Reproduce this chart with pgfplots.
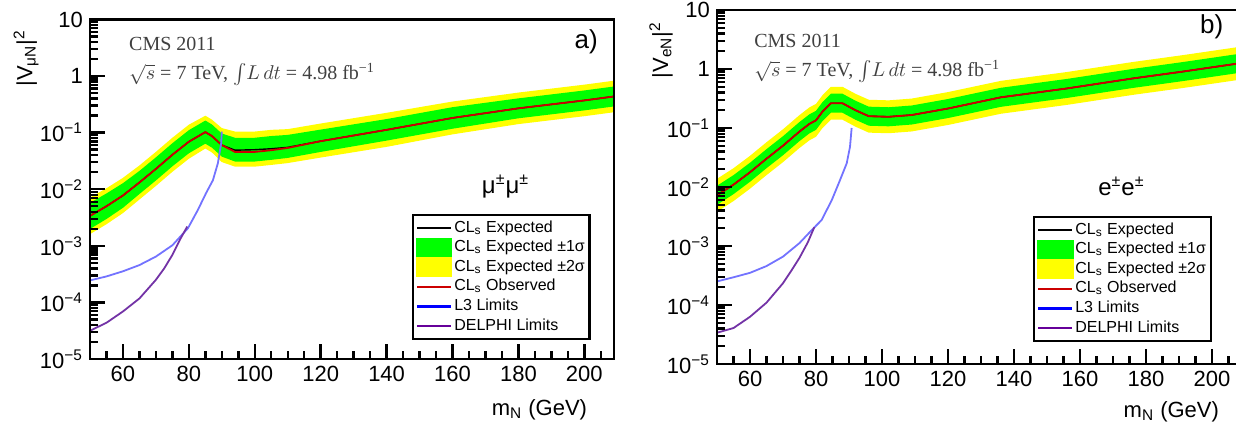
\documentclass[border=0pt]{standalone}
\usepackage{fontspec}
\setmainfont{Liberation Sans}
\newfontfamily\seriffont{Liberation Serif}
\usepackage{pgfplots}
\usepackage{pgfplotstable}
\pgfplotsset{compat=1.18}

\definecolor{obsred}{rgb}{0.8,0,0}
\definecolor{ltblue}{rgb}{0.45,0.45,1}
\definecolor{delphi}{rgb}{0.45,0.2,0.65}
\definecolor{legpurple}{rgb}{0.4,0,0.6}
\definecolor{bandgreen}{rgb}{0,1,0}
\definecolor{bandyellow}{rgb}{1,1,0}

% expected and observed limits
\pgfplotstableread{
x exp obs
50 0.00339 0.00339
55 0.00501 0.00501
60 0.00776 0.00776
65 0.01318 0.01318
70 0.0229 0.0229
75 0.0407 0.0407
80 0.0692 0.0692
85 0.1023 0.1023
87 0.0871 0.0871
90 0.0603 0.0603
94 0.0490 0.0457
100 0.0500 0.0457
105 0.0520 0.0490
110 0.0550 0.0537
120 0.0708 0.0708
140 0.1122 0.1122
160 0.1820 0.1820
180 0.2692 0.2692
200 0.3715 0.3715
209 0.4365 0.4365
}\leftlim

\pgfplotstableread{
x y
50 2.45e-4
55 2.88e-4
60 3.55e-4
65 4.57e-4
70 6.46e-4
75 1.023e-3
79.7 2.04e-3
82.7 4.27e-3
85.2 8.51e-3
87.3 0.01445
88.8 0.0288
89.8 0.0646
90.0 0.1047
}\leftLthree

\pgfplotstableread{
x y
50 3.16e-5
55 4.37e-5
60 6.92e-5
65 1.175e-4
70 2.51e-4
72.5 3.98e-4
75 6.92e-4
77.5 1.35e-3
79.5 2.19e-3
}\leftDelphi

\pgfplotstableread{
x exp obs
50 0.00724 0.00724
55 0.01096 0.01096
60 0.01778 0.01778
65 0.0302 0.0302
70 0.0501 0.0501
75 0.0871 0.0871
78 0.1175 0.1175
80 0.1349 0.1349
82 0.1905 0.1905
84.5 0.263 0.263
88 0.263 0.263
92 0.1995 0.1995
96 0.1585 0.1585
102 0.1549 0.1549
109 0.166 0.166
120 0.2138 0.2138
136 0.3311 0.3311
156 0.4677 0.4677
176 0.6918 0.6918
191 0.9016 0.9016
210 1.288 1.288
}\rightlim

\pgfplotstableread{
x y
50 2.51e-4
55 2.95e-4
60 3.51e-4
65 4.57e-4
70 6.61e-4
75 1.122e-3
78.7 1.86e-3
81.7 2.75e-3
84.8 6.03e-3
87.3 0.01318
89.3 0.0251
90.3 0.0479
90.8 0.1
}\rightLthree

\pgfplotstableread{
x y
50 3.39e-5
55 4.07e-5
60 6.31e-5
65 1.096e-4
70 2.34e-4
72.5 3.80e-4
75 6.31e-4
77.5 1.148e-3
79.5 2.09e-3
}\rightDelphi

\pgfplotsset{
  every axis/.append style={
    scale only axis,
    ymode=log,
    xmin=50, ymin=1e-5, ymax=10,
    clip=false, axis on top,
    xtick pos=bottom, ytick pos=left, tick align=inside,
    axis line style={line width=1.2pt},
    every tick/.style={black, line width=1.2pt},
    major tick length=7.5pt, minor tick length=4pt,
    xtick={60,80,100,120,140,160,180,200},
    minor xtick={55,65,70,75,85,90,95,105,110,115,125,130,135,145,150,155,165,170,175,185,190,195,205},
    ytick={1e-5,1e-4,1e-3,1e-2,1e-1,1,10},
    minor ytick={2e-5,3e-5,4e-5,5e-5,6e-5,7e-5,8e-5,9e-5,2e-4,3e-4,4e-4,5e-4,6e-4,7e-4,8e-4,9e-4,2e-3,3e-3,4e-3,5e-3,6e-3,7e-3,8e-3,9e-3,0.02,0.03,0.04,0.05,0.06,0.07,0.08,0.09,0.2,0.3,0.4,0.5,0.6,0.7,0.8,0.9,2,3,4,5,6,7,8,9},
    yticklabels={10\textsuperscript{−5},10\textsuperscript{−4},10\textsuperscript{−3},10\textsuperscript{−2},10\textsuperscript{−1},1,10},
    /pgf/number format/assume math mode=true,
    tick label style={font=\fontsize{11}{13}\selectfont},
    legend cell align=left,
    legend style={anchor=north west,
      draw=black, line width=1.2pt, font=\fontsize{8}{9.8}\selectfont,
      inner sep=1.5pt, row sep=0pt,
      nodes={text height=6pt, text depth=2pt, inner sep=0.9pt}},
  },
}

\begin{document}
\begin{tikzpicture}
% ---------------- panel a ----------------
\begin{axis}[
  at={(45pt,31.5pt)}, anchor=south west,
  width=262pt, height=169.75pt,
  xmax=209,
  legend style={at={(rel axis cs:0.614,0.427)}},
]
% +-2 sigma band (upper edge, then lower edge backwards)
\addplot[fill=bandyellow, draw=none, forget plot] coordinates {
(50,0.00712) (55,0.01042) (60,0.01591) (65,0.02636) (70,0.0458) (75,0.0814) (80,0.1384) (85,0.1995) (87,0.1698) (90,0.1206) (94,0.1047) (100,0.1047) (105,0.1122) (110,0.1155) (120,0.1451) (140,0.2244) (160,0.3549) (180,0.5115) (200,0.7059) (209,0.8294)
(209,0.2297) (200,0.1955) (180,0.1417) (160,0.0933) (140,0.0561) (120,0.0363) (110,0.0290) (105,0.0269) (100,0.0251) (94,0.0251) (90,0.0302) (87,0.0447) (85,0.05246) (80,0.0346) (75,0.02035) (70,0.01145) (65,0.00659) (60,0.00379) (55,0.00241) (50,0.00161)};
% +-1 sigma band
\addplot[fill=bandgreen, draw=none, forget plot] coordinates {
(50,0.00576) (55,0.00842) (60,0.01280) (65,0.02109) (70,0.03664) (75,0.06512) (80,0.1107) (85,0.1637) (87,0.1394) (90,0.0965) (94,0.0813) (100,0.0813) (105,0.0872) (110,0.0913) (120,0.1133) (140,0.1739) (160,0.2821) (180,0.4038) (200,0.5573) (209,0.6548)
(209,0.2910) (200,0.2477) (180,0.1795) (160,0.1174) (140,0.0724) (120,0.0457) (110,0.0358) (105,0.0331) (100,0.0309) (94,0.0309) (90,0.0377) (87,0.0544) (85,0.0639) (80,0.04325) (75,0.02544) (70,0.01431) (65,0.00824) (60,0.00470) (55,0.00298) (50,0.00199)};
\addplot[black, line width=0.7pt, forget plot] table[x=x,y=exp]{\leftlim};
\addplot[obsred, line width=0.9pt, forget plot] table[x=x,y=obs]{\leftlim};
\addplot[ltblue, line width=0.9pt, forget plot] table[x=x,y=y]{\leftLthree};
\addplot[delphi, line width=0.9pt, forget plot] table[x=x,y=y]{\leftDelphi};

\addlegendimage{black, line width=1.1pt}
\addlegendentry{CL\textsubscript{s} Expected}
\addlegendimage{legend image code/.code={\fill[bandgreen] (0cm,-0.15cm) rectangle (0.6cm,0.15cm);}}
\addlegendentry{CL\textsubscript{s} Expected ±1σ}
\addlegendimage{legend image code/.code={\fill[bandyellow] (0cm,-0.15cm) rectangle (0.6cm,0.15cm);}}
\addlegendentry{CL\textsubscript{s} Expected ±2σ}
\addlegendimage{obsred, line width=1.1pt}
\addlegendentry{CL\textsubscript{s} Observed}
\addlegendimage{blue, line width=1.1pt}
\addlegendentry{L3 Limits}
\addlegendimage{legpurple, line width=1.1pt}
\addlegendentry{DELPHI Limits}

\node[anchor=west, inner sep=0pt, font=\seriffont\fontsize{10}{12}\selectfont, text=black!75] at (rel axis cs:0.074,0.927) {CMS 2011};
\node[anchor=west, inner sep=0pt, font=\seriffont\fontsize{10}{12}\selectfont, text=black!75] at (rel axis cs:0.074,0.842) {\smash{$\sqrt{s}$} = 7 TeV, \smash{$\int\! L\,dt$} = 4.98 fb\textsuperscript{−1}};
\node[font=\fontsize{13}{15}\selectfont] at (rel axis cs:0.947,0.935) {a)};
\node[font=\fontsize{12}{14}\selectfont] at (rel axis cs:0.793,0.507) {μ\textsuperscript{±}μ\textsuperscript{±}};
\node[rotate=90, anchor=east, font=\fontsize{11}{13}\selectfont] at (rel axis cs:-0.122,0.99) {|V\textsubscript{μN}|\textsuperscript{2}};
\node[anchor=east, yshift=-25.5pt, font=\fontsize{11}{13}\selectfont] at (rel axis cs:0.962,0) {m\textsubscript{N} (GeV)};
\end{axis}

% ---------------- panel b ----------------
\begin{axis}[
  at={(358.5pt,29pt)}, anchor=south west,
  width=264pt, height=177pt,
  xmax=210,
  legend style={at={(rel axis cs:0.598,0.418)}},
]
\addplot[fill=bandyellow, draw=none, forget plot] coordinates {
(50,0.01376) (55,0.02082) (60,0.03378) (65,0.05738) (70,0.09519) (75,0.1655) (78,0.2233) (80,0.2563) (82,0.3620) (84.5,0.4997) (88,0.4997) (92,0.3791) (96,0.3012) (102,0.2943) (109,0.3154) (120,0.4062) (136,0.6291) (156,0.8886) (176,1.314) (191,1.713) (210,2.447)
(210,0.6779) (191,0.4745) (176,0.3641) (156,0.2462) (136,0.1743) (120,0.1125) (109,0.0874) (102,0.0815) (96,0.0834) (92,0.1050) (88,0.1384) (84.5,0.1384) (82,0.1003) (80,0.0710) (78,0.0618) (75,0.04584) (70,0.02637) (65,0.01589) (60,0.00936) (55,0.00577) (50,0.00381)};
\addplot[fill=bandgreen, draw=none, forget plot] coordinates {
(50,0.0105) (55,0.01589) (60,0.02578) (65,0.0438) (70,0.07265) (75,0.1263) (78,0.1704) (80,0.1956) (82,0.2762) (84.5,0.3814) (88,0.3814) (92,0.2893) (96,0.2298) (102,0.2246) (109,0.2407) (120,0.3100) (136,0.4801) (156,0.6782) (176,1.003) (191,1.307) (210,1.868)
(210,0.8883) (191,0.6218) (176,0.4771) (156,0.3226) (136,0.2283) (120,0.1474) (109,0.1145) (102,0.1068) (96,0.1093) (92,0.1376) (88,0.1814) (84.5,0.1814) (82,0.1314) (80,0.0930) (78,0.0810) (75,0.06007) (70,0.03455) (65,0.02083) (60,0.01226) (55,0.00756) (50,0.00499)};
\addplot[black, line width=0.7pt, forget plot] table[x=x,y=exp]{\rightlim};
\addplot[obsred, line width=0.9pt, forget plot] table[x=x,y=obs]{\rightlim};
\addplot[ltblue, line width=0.9pt, forget plot] table[x=x,y=y]{\rightLthree};
\addplot[delphi, line width=0.9pt, forget plot] table[x=x,y=y]{\rightDelphi};

\addlegendimage{black, line width=1.1pt}
\addlegendentry{CL\textsubscript{s} Expected}
\addlegendimage{legend image code/.code={\fill[bandgreen] (0cm,-0.15cm) rectangle (0.6cm,0.15cm);}}
\addlegendentry{CL\textsubscript{s} Expected ±1σ}
\addlegendimage{legend image code/.code={\fill[bandyellow] (0cm,-0.15cm) rectangle (0.6cm,0.15cm);}}
\addlegendentry{CL\textsubscript{s} Expected ±2σ}
\addlegendimage{obsred, line width=1.1pt}
\addlegendentry{CL\textsubscript{s} Observed}
\addlegendimage{blue, line width=1.1pt}
\addlegendentry{L3 Limits}
\addlegendimage{legpurple, line width=1.1pt}
\addlegendentry{DELPHI Limits}

\node[anchor=west, inner sep=0pt, font=\seriffont\fontsize{10}{12}\selectfont, text=black!75] at (rel axis cs:0.07,0.912) {CMS 2011};
\node[anchor=west, inner sep=0pt, font=\seriffont\fontsize{10}{12}\selectfont, text=black!75] at (rel axis cs:0.07,0.83) {\smash{$\sqrt{s}$} = 7 TeV, \smash{$\int\! L\,dt$} = 4.98 fb\textsuperscript{−1}};
\node[font=\fontsize{13}{15}\selectfont] at (rel axis cs:0.937,0.953) {b)};
\node[font=\fontsize{12}{14}\selectfont] at (rel axis cs:0.766,0.501) {e\textsuperscript{±}e\textsuperscript{±}};
\node[rotate=90, anchor=east, font=\fontsize{11}{13}\selectfont] at (rel axis cs:-0.106,0.986) {|V\textsubscript{eN}|\textsuperscript{2}};
\node[anchor=east, yshift=-24pt, font=\fontsize{11}{13}\selectfont] at (rel axis cs:0.964,0) {m\textsubscript{N} (GeV)};
\end{axis}

\pgfresetboundingbox
\useasboundingbox (0,0) rectangle (618pt,211pt);
\end{tikzpicture}
\end{document}
